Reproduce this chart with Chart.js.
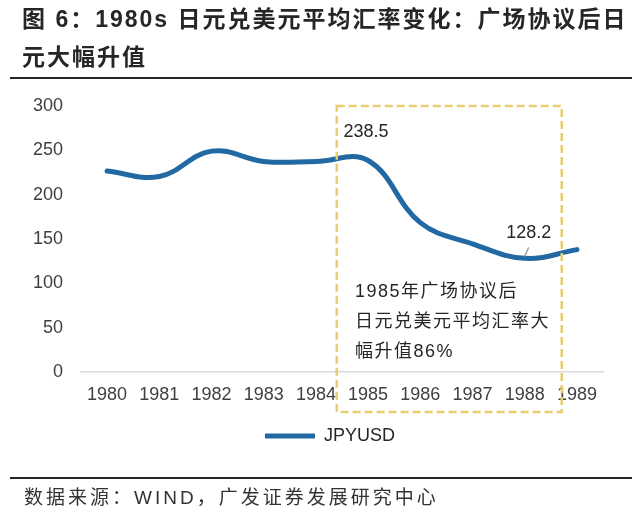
<!DOCTYPE html>
<html>
<head>
<meta charset="utf-8">
<script src="https://cdn.jsdelivr.net/npm/chart.js@4/dist/chart.umd.min.js"></script>
<style>
  html, body { margin: 0; padding: 0; background: #ffffff; }
  #wrap { position: relative; width: 640px; height: 523px; overflow: hidden; background: #fff; }
  #chart { position: absolute; left: 0; top: 0; }
  .title { position: absolute; left: 22px; top: 0px; width: 615px; font-family: "Liberation Sans", "Noto Sans CJK SC", sans-serif; font-weight: bold; font-size: 23px; line-height: 38px; letter-spacing: 2px; color: #262626; white-space: nowrap; }
  .rule { position: absolute; left: 10px; width: 622px; height: 2px; background: #262626; }
  .source { position: absolute; left: 24px; top: 486px; font-family: "Liberation Sans", "Noto Sans CJK SC", sans-serif; font-size: 19px; line-height: 24px; letter-spacing: 3px; color: #333333; white-space: nowrap; }
</style>
</head>
<body>
<div id="wrap">
  <canvas id="chart" width="640" height="523"></canvas>
  <div class="title">图 6：1980s 日元兑美元平均汇率变化：广场协议后日<br>元大幅升值</div>
  <div class="rule" style="top:77px"></div>
  <div class="rule" style="top:477px"></div>
  <div class="source">数据来源：WIND，广发证券发展研究中心</div>
</div>
<script>
// ---- data ----
const years = ['1980', '1981', '1982', '1983', '1984', '1985', '1986', '1987', '1988', '1989'];
const jpyusd = [226.7, 220.5, 249.1, 237.5, 237.5, 238.5, 168.5, 144.6, 128.2, 138.0];
const seriesName = 'JPYUSD';
const yTickValues = [0, 50, 100, 150, 200, 250, 300];
const labelledIndexes = [5, 8];
const noteLines = ['1985年广场协议后', '日元兑美元平均汇率大', '幅升值86%'];
// box region in data units (category index, value)
const boxRange = { x0: 4.4, x1: 8.71, y0: -45, y1: 300 };
const noteAnchor = { x: 4.75, y: 90 };

const LINE_COLOR = '#2268A2';
const BOX_COLOR = '#E8CD72';
const TEXT_COLOR = '#404040';
const LEGEND_CENTER_X = 330;

const legendShiftPlugin = {
  id: 'legendShift',
  afterLayout(chart) {
    const lg = chart.legend;
    if (!lg) return;
    const shift = LEGEND_CENTER_X - (lg.left + lg.right) / 2;
    lg.left += shift;
    lg.right += shift;
  }
};

const annotationPlugin = {
  id: 'annotations',
  afterDraw(chart) {
    const ctx = chart.ctx;
    const xs = chart.scales.x, ys = chart.scales.y;
    ctx.save();
    // dashed box
    const bx0 = xs.getPixelForValue(boxRange.x0), bx1 = xs.getPixelForValue(boxRange.x1);
    const by0 = ys.getPixelForValue(boxRange.y1), by1 = ys.getPixelForValue(boxRange.y0);
    ctx.strokeStyle = BOX_COLOR;
    ctx.lineWidth = 2.5;
    ctx.setLineDash([8, 4]);
    ctx.strokeRect(bx0, by0, bx1 - bx0, by1 - by0);
    ctx.setLineDash([]);

    // data labels
    ctx.fillStyle = '#262626';
    ctx.font = '18px "Liberation Sans", Arial, sans-serif';
    ctx.textAlign = 'center';
    ctx.textBaseline = 'middle';
    const meta = chart.getDatasetMeta(0);
    labelledIndexes.forEach((i, k) => {
      const pt = meta.data[i];
      const v = jpyusd[i];
      if (k === 0) {
        ctx.fillText(v.toFixed(1), pt.x - 2, pt.y - 28);
      } else {
        ctx.fillText(v.toFixed(1), pt.x + 4, pt.y - 25);
        ctx.strokeStyle = '#A6A6A6';
        ctx.lineWidth = 1.5;
        ctx.beginPath();
        ctx.moveTo(pt.x + 4, pt.y - 11);
        ctx.lineTo(pt.x, pt.y - 2);
        ctx.stroke();
      }
    });

    // note text
    ctx.textAlign = 'left';
    ctx.fillStyle = '#262626';
    ctx.font = '18px "Liberation Sans", "Noto Sans CJK SC", sans-serif';
    try { ctx.letterSpacing = '1.5px'; } catch (e) {}
    const nx = xs.getPixelForValue(noteAnchor.x);
    const ny = ys.getPixelForValue(noteAnchor.y);
    noteLines.forEach((line, i) => ctx.fillText(line, nx, ny + i * 30));
    ctx.restore();
  }
};

new Chart(document.getElementById('chart'), {
  type: 'line',
  data: {
    labels: years,
    datasets: [{
      label: seriesName,
      data: jpyusd,
      borderColor: LINE_COLOR,
      backgroundColor: LINE_COLOR,
      borderWidth: 5,
      borderCapStyle: 'round',
      borderJoinStyle: 'round',
      pointRadius: 0,
      pointHoverRadius: 0,
      tension: 0.4,
      fill: false,
      pointStyle: 'line'
    }]
  },
  options: {
    responsive: false,
    animation: false,
    devicePixelRatio: 1,
    layout: { padding: { left: 0, right: 37, top: 106, bottom: 68 } },
    plugins: {
      legend: {
        display: true,
        position: 'bottom',
        labels: {
          usePointStyle: true,
          pointStyle: 'line',
          pointStyleWidth: 50,
          color: '#262626',
          font: { size: 18, family: '"Liberation Sans", Arial, sans-serif' },
          padding: 10
        }
      },
      tooltip: { enabled: false },
      title: { display: false }
    },
    scales: {
      x: {
        offset: true,
        grid: { display: false, drawTicks: false },
        border: { display: true, color: '#D9D9D9', width: 1.5 },
        ticks: { color: TEXT_COLOR, font: { size: 18, family: '"Liberation Sans", Arial, sans-serif' }, padding: 12, maxRotation: 0, autoSkip: false },
        afterFit(scale) { scale.height = 45; }
      },
      y: {
        min: 0,
        max: 300,
        grid: { display: false, drawTicks: false },
        border: { display: false },
        afterBuildTicks(scale) { scale.ticks = yTickValues.map(v => ({ value: v })); },
        ticks: { color: TEXT_COLOR, font: { size: 18, family: '"Liberation Sans", Arial, sans-serif' }, padding: 18 },
        afterFit(scale) { scale.width = 81; }
      }
    }
  },
  plugins: [legendShiftPlugin, annotationPlugin]
});
</script>
</body>
</html>
